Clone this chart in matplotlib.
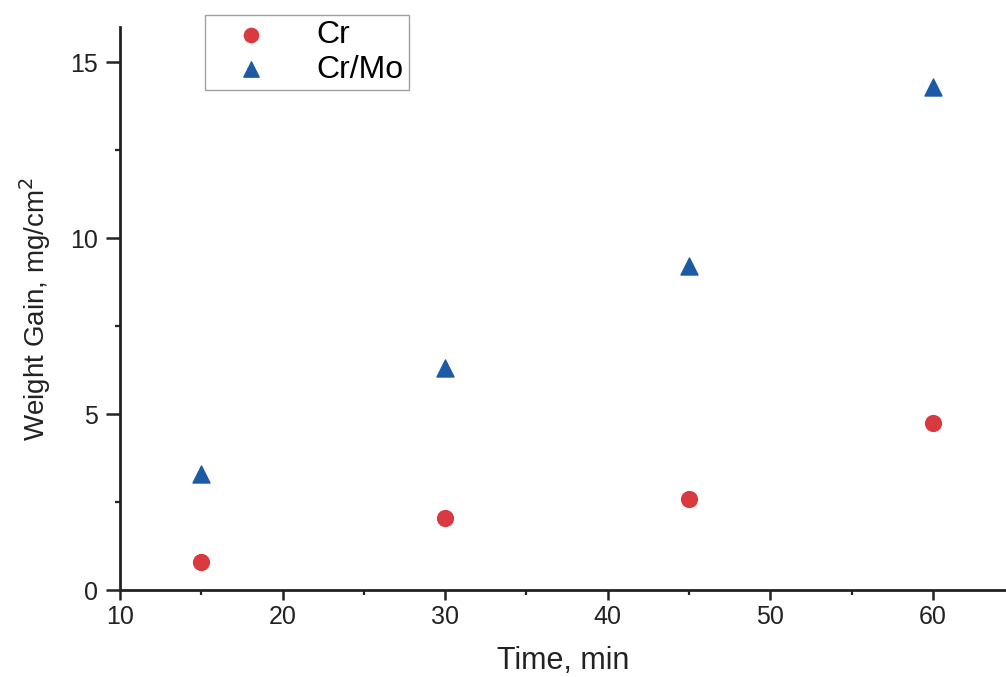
import matplotlib
matplotlib.use("Agg")
import matplotlib.pyplot as plt
from matplotlib.ticker import MultipleLocator

plt.rcParams['font.family'] = ['Liberation Sans', 'DejaVu Sans']

time_min = [15, 30, 45, 60]
cr_gain = [0.8, 2.05, 2.6, 4.75]
crmo_gain = [3.3, 6.3, 9.2, 14.3]

fig = plt.figure(figsize=(10.06, 6.77), dpi=100)
ax = fig.add_axes([120/1006, 87/677, 1 - 120/1006, 563/677])

ax.scatter(time_min, cr_gain, marker='o', s=130, color='#d83a40', label='Cr', zorder=3)
ax.scatter(time_min, crmo_gain, marker='^', s=150, color='#1d5aa6', label='Cr/Mo', zorder=3)

ax.set_xlim(10, 64.5)
ax.set_ylim(0, 16)
ax.xaxis.set_major_locator(MultipleLocator(10))
ax.xaxis.set_minor_locator(MultipleLocator(5))
ax.yaxis.set_major_locator(MultipleLocator(5))
ax.yaxis.set_minor_locator(MultipleLocator(2.5))

for s in ['top', 'right']:
    ax.spines[s].set_visible(False)
for s in ['left', 'bottom']:
    ax.spines[s].set_linewidth(2.0)
    ax.spines[s].set_color('#222222')

ax.tick_params(which='major', width=1.8, labelsize=18, colors='#222222')
ax.tick_params(axis='x', which='major', length=7, pad=4)
ax.tick_params(axis='y', which='major', length=10, pad=6)
ax.tick_params(which='minor', length=3.5, width=1.6, colors='#222222')

ax.set_xlabel('Time, min', fontsize=22, color='#222222', labelpad=12)
ax.set_ylabel('Weight Gain, mg/cm$^2$', fontsize=20, color='#222222', labelpad=12)

leg = ax.legend(loc='upper left', bbox_to_anchor=(85/886, 1.021), fontsize=23,
                frameon=True, fancybox=False, edgecolor='#888888', handletextpad=0.75,
                borderpad=0.15, labelspacing=0.15, handlelength=2.6, borderaxespad=0,
                markerscale=0.9)
leg.get_frame().set_linewidth(1.0)

fig.savefig('out.png', dpi=100)
